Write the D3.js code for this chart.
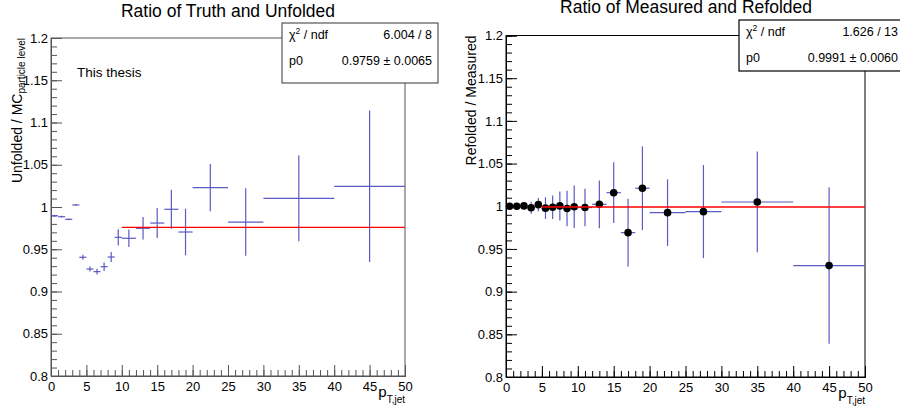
<!DOCTYPE html>
<html><head><meta charset="utf-8">
<script src="https://cdn.jsdelivr.net/npm/d3@7"></script>
<style>
html,body{margin:0;padding:0;background:#fff;}
svg{display:block;font-family:"Liberation Sans",Arial,Helvetica,sans-serif;}
</style></head>
<body>
<svg id="c" width="900" height="417"></svg>
<script>
// ---------- data ----------
const binEdges = [0,1,2,3,4,5,6,7,8,9,10,12,14,16,18,20,25,30,40,50];
const ratioUnfold = [0.9897,0.9885,0.9854,1.0024,0.9405,0.9266,0.9235,0.9294,0.9408,0.9641,0.9630,0.9748,0.9810,0.9973,0.9704,1.0229,0.9822,1.0103,1.0245];
const errUnfold   = [0.0010,0.0010,0.0010,0.0010,0.0030,0.0030,0.0035,0.0050,0.0060,0.0097,0.0103,0.0134,0.0178,0.0230,0.0276,0.0280,0.0399,0.0509,0.0897];
const ratioRefold = [1.0000,1.0000,1.0004,0.9982,1.0019,0.9978,0.9989,1.0004,0.9974,0.9994,0.9985,1.0023,1.0159,0.9691,1.0211,0.9925,0.9937,1.0050,0.9305];
const errRefold   = [0.0020,0.0020,0.0030,0.0070,0.0078,0.0127,0.0137,0.0170,0.0207,0.0250,0.0220,0.0280,0.0355,0.0396,0.0490,0.0390,0.0545,0.0590,0.0917];
const fitUnfold = 0.9759, fitUnfoldRange = [10,50];
const fitRefold = 0.9991, fitRefoldRange = [5,50];
const yMajor = [0.8,0.85,0.9,0.95,1.0,1.05,1.1,1.15,1.2];
const yMajorLabels = ["0.8","0.85","0.9","0.95","1","1.05","1.1","1.15","1.2"];
const yMinor = d3.range(0,41).map(i => +(0.8 + i*0.01).toFixed(2));
const xMajor = [0,5,10,15,20,25,30,35,40,45,50];
const xMinor = d3.range(0,51);
const statsUnfold = [["χ","2"," / ndf","6.004 / 8"],["p0","","","0.9759 ± 0.0065"]];
const statsRefold = [["χ","2"," / ndf","1.626 / 13"],["p0","","","0.9991 ± 0.0060"]];

const svg = d3.select("#c");

function panel(cfg){
  const x = d3.scaleLinear().domain([0,50]).range([cfg.x0,cfg.x1]);
  const y = d3.scaleLinear().domain([0.8,1.2]).range([cfg.y0,cfg.y1]);
  const g = svg.append("g");
  // frame
  g.append("rect").attr("x",cfg.x0).attr("y",cfg.y1).attr("width",cfg.x1-cfg.x0).attr("height",cfg.y0-cfg.y1)
    .attr("fill","none").attr("stroke",cfg.frame).attr("stroke-width",1);
  // y axis minor & major
  const ay = g.append("g").attr("transform",`translate(${cfg.x0},0)`);
  ay.call(d3.axisLeft(y).tickValues(yMinor).tickSize(-6).tickFormat(""));
  const ayM = g.append("g").attr("transform",`translate(${cfg.x0},0)`);
  ayM.call(d3.axisLeft(y).tickValues(yMajor).tickSize(-11).tickPadding(3)
     .tickFormat((d,i)=>yMajorLabels[i]));
  // x axis
  const ax = g.append("g").attr("transform",`translate(0,${cfg.y0})`);
  ax.call(d3.axisBottom(x).tickValues(xMinor).tickSize(-6).tickFormat(""));
  const axM = g.append("g").attr("transform",`translate(0,${cfg.y0})`);
  axM.call(d3.axisBottom(x).tickValues(xMajor).tickSize(-11).tickPadding(6).tickFormat(d3.format("d")));
  [ay,ayM,ax,axM].forEach(a=>{
    a.select(".domain").attr("stroke",cfg.frame);
    a.selectAll(".tick line").attr("stroke",cfg.frame);
    a.selectAll("text").attr("font-size",13).attr("fill","#000").attr("font-family","Liberation Sans, Arial, sans-serif");
  });
  // data
  const dg = g.append("g");
  cfg.vals.forEach((v,i)=>{
    const lo = binEdges[i], hi = binEdges[i+1], c=(lo+hi)/2, e=cfg.errs[i];
    dg.append("line").attr("x1",x(lo)).attr("x2",x(hi)).attr("y1",y(v)).attr("y2",y(v))
      .attr("stroke",cfg.err).attr("stroke-width",1.2);
    dg.append("line").attr("x1",x(c)).attr("x2",x(c)).attr("y1",y(v-e)).attr("y2",y(v+e))
      .attr("stroke",cfg.err).attr("stroke-width",1.2);
  });
  // fit
  g.append("line").attr("x1",x(cfg.fitRange[0])).attr("x2",x(cfg.fitRange[1]))
    .attr("y1",y(cfg.fit)).attr("y2",y(cfg.fit)).attr("stroke","#ff0000").attr("stroke-width",1.3);
  if(cfg.markers){
    cfg.vals.forEach((v,i)=>{
      const c=(binEdges[i]+binEdges[i+1])/2;
      dg.append("circle").attr("cx",x(c)).attr("cy",y(v)).attr("r",3.8).attr("fill","#000");
    });
  }
  // title
  svg.append("text").attr("x",cfg.titleX).attr("y",cfg.titleY).attr("text-anchor","middle")
    .attr("font-size",17.5).text(cfg.title);
  // y title
  const yt = svg.append("text").attr("transform",`translate(${cfg.ytX},${cfg.y1}) rotate(-90)`)
    .attr("text-anchor","end").attr("font-size",14);
  cfg.ytitle(yt);
  // x title
  const xt = svg.append("text").attr("x",cfg.x1).attr("y",cfg.y0+21).attr("text-anchor","end").attr("font-size",15);
  xt.append("tspan").text("p");
  xt.append("tspan").attr("font-size",10).attr("dy",6).text("T,jet");
  // stats box
  const b = cfg.box;
  svg.append("rect").attr("x",b.x).attr("y",b.y).attr("width",b.w).attr("height",b.h)
    .attr("fill","#fff").attr("stroke",cfg.frame).attr("stroke-width",1.2);
  cfg.stats.forEach((r,i)=>{
    const by = b.y + 16 + i*26;
    const t = svg.append("text").attr("x",b.x+7).attr("y",by).attr("font-size",12.5);
    t.append("tspan").text(r[0]);
    if(r[1]) t.append("tspan").attr("font-size",8.5).attr("dy",-5).text(r[1]);
    if(r[2]) t.append("tspan").attr("dy",r[1]?5:0).text(r[2]);
    svg.append("text").attr("x",b.x+b.w-6).attr("y",by).attr("text-anchor","end").attr("font-size",12.5).text(r[3]);
  });
}

panel({x0:51,x1:405,y0:376,y1:38,frame:"#555",err:"#5a5ac4",vals:ratioUnfold,errs:errUnfold,
  fit:fitUnfold,fitRange:fitUnfoldRange,markers:false,title:"Ratio of Truth and Unfolded",titleX:228,titleY:17,
  ytX:22,ytitle:t=>{t.append("tspan").text("Unfolded / MC");t.append("tspan").attr("font-size",10).attr("dy",3).text("particle level");},
  box:{x:282,y:23,w:156,h:60},stats:statsUnfold});

panel({x0:506,x1:865,y0:377,y1:35.5,frame:"#000",err:"#5a5ac8",vals:ratioRefold,errs:errRefold,
  fit:fitRefold,fitRange:fitRefoldRange,markers:true,title:"Ratio of Measured and Refolded",titleX:686,titleY:13,
  ytX:476,ytitle:t=>{t.text("Refolded / Measured");},
  box:{x:739,y:20,w:165,h:51},stats:statsRefold});

svg.append("text").attr("x",77).attr("y",77).attr("font-size",13.5).text("This thesis");
</script>
</body></html>
